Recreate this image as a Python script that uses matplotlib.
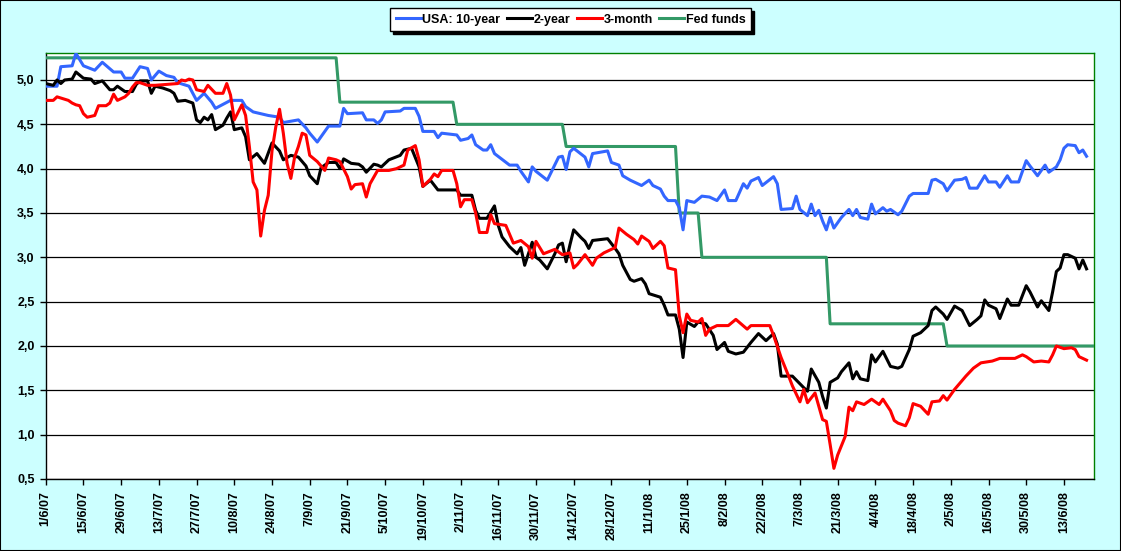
"""
USA yields vs Fed funds, 1/6/07 - 25/6/08 (Excel-style line chart).
Output: out.png
"""

import matplotlib
matplotlib.use("Agg")
import matplotlib.pyplot as plt
from matplotlib.patches import Rectangle
from matplotlib.ticker import FuncFormatter, MultipleLocator

# x = trading-day number counted from 1/6/07 (Mon-Fri), one category per day
N_OBS = 279
TICK_EVERY = 10
TICK_LABELS = [
    "1/6/07", "15/6/07", "29/6/07", "13/7/07", "27/7/07", "10/8/07", "24/8/07",
    "7/9/07", "21/9/07", "5/10/07", "19/10/07", "2/11/07", "16/11/07", "30/11/07",
    "14/12/07", "28/12/07", "11/1/08", "25/1/08", "8/2/08", "22/2/08", "7/3/08",
    "21/3/08", "4/4/08", "18/4/08", "2/5/08", "16/5/08", "30/5/08", "13/6/08",
]

TEN_OBS = [
    0, 3, 4, 7, 8, 10, 13, 15, 18, 20, 21, 23, 25, 27, 28, 30, 32, 34, 35, 38,
    40, 42, 44, 45, 49, 52, 53, 55, 59, 62, 63, 67, 69, 70, 72, 75, 78, 79, 80, 84,
    85, 87, 88, 89, 90, 94, 95, 98, 99, 100, 103, 104, 105, 109, 110, 112, 113, 114, 116, 117,
    118, 119, 123, 125, 126, 128, 129, 130, 133, 136, 137, 138, 139, 140, 143, 144, 145, 149, 150, 152,
    153, 155, 158, 160, 161, 163, 164, 165, 167, 168, 169, 170, 172, 174, 176, 178, 180, 181, 183, 185,
    186, 187, 189, 190, 193, 194, 195, 198, 199, 200, 202, 203, 204, 205, 206, 207, 208, 209, 211, 213,
    214, 215, 216, 218, 219, 220, 222, 223, 224, 226, 227, 229, 230, 234, 235, 236, 238, 239, 241, 243,
    244, 245, 247, 249, 250, 252, 253, 255, 256, 258, 260, 261, 263, 265, 266, 268, 269, 270, 271, 273,
    274, 275, 276,
]
TEN_YIELD = [
    4.93, 4.93, 5.15, 5.16, 5.30, 5.16, 5.11, 5.20, 5.09, 5.09, 5.02, 5.02, 5.15, 5.13, 5.00, 5.10, 5.05, 5.03, 4.97, 4.93,
    4.77, 4.85, 4.75, 4.68, 4.77, 4.77, 4.70, 4.64, 4.60, 4.58, 4.52, 4.55, 4.46, 4.40, 4.30, 4.48, 4.48, 4.68, 4.62, 4.63,
    4.55, 4.55, 4.51, 4.55, 4.64, 4.65, 4.68, 4.68, 4.59, 4.42, 4.42, 4.35, 4.40, 4.38, 4.32, 4.34, 4.38, 4.27, 4.21, 4.21,
    4.27, 4.17, 4.04, 4.04, 3.97, 3.85, 4.02, 3.97, 3.87, 4.13, 4.14, 3.99, 4.19, 4.23, 4.13, 4.02, 4.17, 4.20, 4.07, 4.04,
    3.92, 3.87, 3.81, 3.87, 3.81, 3.77, 3.69, 3.64, 3.64, 3.56, 3.31, 3.64, 3.62, 3.69, 3.68, 3.64, 3.76, 3.64, 3.64, 3.83,
    3.78, 3.86, 3.90, 3.81, 3.91, 3.83, 3.54, 3.55, 3.69, 3.54, 3.47, 3.60, 3.47, 3.53, 3.41, 3.31, 3.45, 3.33, 3.45, 3.54,
    3.47, 3.54, 3.45, 3.43, 3.60, 3.49, 3.56, 3.52, 3.54, 3.48, 3.52, 3.69, 3.72, 3.72, 3.87, 3.88, 3.83, 3.75, 3.87, 3.88,
    3.90, 3.78, 3.78, 3.92, 3.85, 3.85, 3.79, 3.92, 3.85, 3.85, 4.09, 4.03, 3.92, 4.04, 3.96, 4.02, 4.10, 4.23, 4.27, 4.26,
    4.18, 4.21, 4.14,
]

TWO_OBS = [
    0, 2, 3, 4, 5, 7, 8, 10, 12, 13, 15, 17, 18, 19, 21, 23, 24, 25, 27, 28,
    29, 31, 33, 34, 35, 37, 39, 40, 41, 42, 43, 44, 45, 47, 48, 49, 50, 52, 53, 54,
    56, 58, 60, 62, 63, 65, 67, 69, 70, 72, 73, 75, 77, 78, 79, 81, 83, 84, 85, 87,
    88, 89, 91, 94, 95, 97, 99, 100, 102, 104, 109, 110, 113, 114, 115, 117, 119, 120, 121, 123,
    125, 126, 127, 129, 130, 131, 133, 135, 136, 137, 138, 139, 140, 142, 143, 144, 145, 149, 151, 152,
    153, 155, 156, 158, 159, 160, 163, 164, 165, 167, 168, 169, 170, 172, 173, 175, 177, 178, 180, 181,
    183, 185, 187, 189, 191, 193, 194, 195, 198, 201, 202, 203, 205, 206, 207, 208, 210, 211, 213, 214,
    215, 216, 218, 219, 220, 222, 224, 226, 227, 229, 230, 232, 234, 235, 236, 238, 239, 241, 243, 245,
    247, 248, 249, 250, 252, 253, 255, 256, 258, 260, 261, 263, 264, 266, 267, 268, 269, 270, 271, 273,
    274, 275, 276,
]
TWO_YIELD = [
    4.96, 4.94, 5.00, 4.96, 5.00, 5.01, 5.09, 5.02, 5.01, 4.96, 4.99, 4.89, 4.89, 4.93, 4.87, 4.87, 4.95, 4.99, 4.99, 4.85,
    4.93, 4.91, 4.88, 4.85, 4.76, 4.77, 4.74, 4.55, 4.52, 4.58, 4.55, 4.61, 4.44, 4.49, 4.57, 4.64, 4.44, 4.46, 4.36, 4.10,
    4.17, 4.06, 4.29, 4.20, 4.10, 4.15, 4.13, 4.03, 3.92, 3.83, 4.01, 4.07, 4.07, 4.00, 4.11, 4.06, 4.05, 4.02, 3.96, 4.05,
    4.04, 4.02, 4.10, 4.15, 4.21, 4.23, 4.02, 3.80, 3.87, 3.76, 3.76, 3.70, 3.70, 3.53, 3.44, 3.44, 3.58, 3.36, 3.23, 3.12,
    3.04, 3.11, 2.91, 3.17, 3.00, 2.97, 2.87, 3.04, 3.14, 3.16, 2.95, 3.14, 3.31, 3.22, 3.18, 3.10, 3.19, 3.21, 3.10, 3.04,
    2.91, 2.75, 2.73, 2.76, 2.70, 2.59, 2.55, 2.46, 2.35, 2.35, 2.19, 1.87, 2.27, 2.22, 2.27, 2.25, 2.12, 1.96, 2.04, 1.94,
    1.91, 1.93, 2.04, 2.14, 2.06, 2.14, 2.02, 1.66, 1.66, 1.53, 1.49, 1.74, 1.59, 1.43, 1.30, 1.59, 1.64, 1.71, 1.81, 1.63,
    1.71, 1.63, 1.61, 1.90, 1.82, 1.94, 1.77, 1.75, 1.77, 1.96, 2.11, 2.15, 2.23, 2.40, 2.44, 2.36, 2.30, 2.45, 2.40, 2.23,
    2.30, 2.34, 2.52, 2.46, 2.42, 2.31, 2.53, 2.46, 2.46, 2.68, 2.61, 2.44, 2.51, 2.40, 2.61, 2.84, 2.88, 3.03, 3.03, 2.99,
    2.87, 2.97, 2.87,
]

THREE_OBS = [
    0, 2, 3, 6, 7, 8, 9, 10, 11, 13, 14, 16, 17, 18, 19, 21, 22, 23, 24, 25,
    27, 29, 32, 35, 36, 37, 38, 39, 40, 42, 43, 45, 47, 48, 49, 50, 52, 53, 54, 55,
    56, 57, 58, 59, 60, 61, 62, 63, 64, 65, 66, 67, 68, 69, 70, 72, 74, 75, 77, 78,
    80, 81, 82, 84, 85, 86, 88, 91, 93, 95, 96, 98, 99, 100, 102, 103, 104, 105, 108, 109,
    110, 111, 113, 114, 115, 117, 118, 119, 122, 124, 126, 128, 129, 130, 132, 135, 137, 139, 140, 141,
    143, 145, 146, 148, 151, 152, 154, 156, 157, 158, 160, 161, 163, 164, 165, 167, 168, 169, 170, 171,
    173, 174, 175, 176, 178, 181, 183, 186, 187, 192, 193, 195, 197, 198, 200, 201, 202, 204, 206, 207,
    208, 209, 210, 212, 213, 214, 215, 217, 219, 220, 221, 222, 224, 225, 226, 228, 229, 230, 232, 234,
    235, 237, 238, 239, 241, 243, 244, 246, 248, 251, 253, 257, 259, 260, 262, 264, 266, 267, 268, 270,
    272, 273, 274, 276,
]
THREE_YIELD = [
    4.77, 4.77, 4.81, 4.77, 4.74, 4.72, 4.71, 4.62, 4.58, 4.60, 4.71, 4.71, 4.74, 4.84, 4.77, 4.81, 4.85, 4.92, 4.97, 4.97,
    4.94, 4.94, 4.95, 4.96, 5.00, 4.99, 5.01, 5.00, 4.89, 4.87, 4.94, 4.85, 4.85, 4.96, 4.83, 4.55, 4.72, 4.60, 4.25, 3.85,
    3.76, 3.24, 3.53, 3.70, 4.20, 4.47, 4.67, 4.40, 4.06, 3.89, 4.13, 4.25, 4.40, 4.38, 4.15, 4.08, 3.98, 4.12, 4.10, 4.08,
    3.91, 3.77, 3.82, 3.83, 3.68, 3.83, 3.98, 3.98, 4.00, 4.04, 4.21, 4.26, 4.10, 3.80, 3.88, 3.94, 3.91, 3.98, 3.98, 3.83,
    3.57, 3.65, 3.65, 3.50, 3.28, 3.28, 3.48, 3.38, 3.36, 3.16, 3.19, 3.12, 2.99, 3.18, 3.04, 3.09, 3.03, 3.05, 2.88, 2.92,
    3.03, 2.91, 2.99, 3.05, 3.11, 3.33, 3.26, 3.20, 3.15, 3.24, 3.18, 3.10, 3.18, 3.13, 2.88, 2.86, 2.34, 2.15, 2.36, 2.29,
    2.27, 2.31, 2.12, 2.19, 2.23, 2.23, 2.30, 2.19, 2.23, 2.23, 2.12, 1.87, 1.66, 1.55, 1.37, 1.51, 1.36, 1.47, 1.17, 1.15,
    0.89, 0.62, 0.77, 0.98, 1.31, 1.27, 1.37, 1.34, 1.40, 1.37, 1.34, 1.40, 1.27, 1.16, 1.13, 1.10, 1.19, 1.35, 1.32, 1.23,
    1.37, 1.38, 1.44, 1.39, 1.51, 1.61, 1.66, 1.75, 1.81, 1.83, 1.86, 1.86, 1.90, 1.88, 1.82, 1.83, 1.82, 1.90, 2.00, 1.97,
    1.98, 1.96, 1.88, 1.84,
]

# Fed funds target: first trading day at each new level
FED_CHANGE_OBS = [0, 78, 109, 138, 168, 174, 208, 239]
FED_RATE = [5.25, 4.75, 4.50, 4.25, 3.50, 3.00, 2.25, 2.00]

COLORS = {
    "ten": "#3366FF",
    "two": "#000000",
    "three": "#FF0000",
    "fed": "#339966",
}


def fed_path(change_obs, rates, last_obs):
    # Excel joins consecutive daily points, so each cut is a one-day slope
    xs, ys = [change_obs[0]], [rates[0]]
    for k in range(1, len(change_obs)):
        xs += [change_obs[k] - 1, change_obs[k]]
        ys += [rates[k - 1], rates[k]]
    xs.append(last_obs)
    ys.append(rates[-1])
    return xs, ys


def main():
    plt.rcParams["font.family"] = ["Liberation Sans", "DejaVu Sans"]
    plt.rcParams["font.weight"] = "bold"

    fig = plt.figure(figsize=(11.21, 5.51), dpi=100)
    fig.patch.set_facecolor("#CCFFFF")
    fig.patches.append(Rectangle((0, 0), 1, 1, transform=fig.transFigure,
                                 fill=False, edgecolor="black", linewidth=1.5))

    ax = fig.add_axes([0.0408, 0.1307, 0.9352, 0.7724])
    ax.set_facecolor("white")

    lw = 2.2
    fx, fy = fed_path(FED_CHANGE_OBS, FED_RATE, N_OBS - 1)
    h_fed, = ax.plot(fx, fy, color=COLORS["fed"], lw=lw, zorder=3, label="Fed funds")
    h_ten, = ax.plot(TEN_OBS, TEN_YIELD, color=COLORS["ten"], lw=lw, zorder=4, label="USA: 10-year")
    h_two, = ax.plot(TWO_OBS, TWO_YIELD, color=COLORS["two"], lw=lw, zorder=5, label="2-year")
    h_three, = ax.plot(THREE_OBS, THREE_YIELD, color=COLORS["three"], lw=lw, zorder=6, label="3-month")

    ax.set_xlim(0, N_OBS - 1)
    ax.set_ylim(0.5, 5.3)
    ax.yaxis.set_major_locator(MultipleLocator(0.5))
    ax.yaxis.set_major_formatter(FuncFormatter(lambda v, _: f"{v:.1f}".replace(".", ",")))
    ax.grid(axis="y", color="black", linewidth=0.9, zorder=1)
    ax.set_axisbelow(True)

    ax.set_xticks(range(0, TICK_EVERY * len(TICK_LABELS), TICK_EVERY))
    ax.set_xticklabels(TICK_LABELS, rotation=90, fontsize=9, fontweight="bold")
    ax.tick_params(axis="x", direction="out", length=4, width=1, pad=5)
    ax.tick_params(axis="y", direction="out", length=4, width=1, pad=4, labelsize=9)

    for side in ("left", "bottom"):
        ax.spines[side].set_color("black")
        ax.spines[side].set_linewidth(1)
    for side in ("top", "right"):
        ax.spines[side].set_color("#008000")
        ax.spines[side].set_linewidth(1)

    handles = [h_ten, h_two, h_three, h_fed]
    fig.legend(
        handles, [h.get_label() for h in handles],
        ncol=4, loc="center", bbox_to_anchor=(0.509, 0.964),
        fontsize=9, frameon=True, fancybox=False, framealpha=1,
        edgecolor="black", shadow={"color": "black", "alpha": 1},
        handlelength=2.0, handletextpad=0.15, columnspacing=0.5,
        borderpad=0.45,
    )

    fig.savefig("out.png", dpi=100, facecolor=fig.get_facecolor())
    plt.close(fig)


if __name__ == "__main__":
    main()
